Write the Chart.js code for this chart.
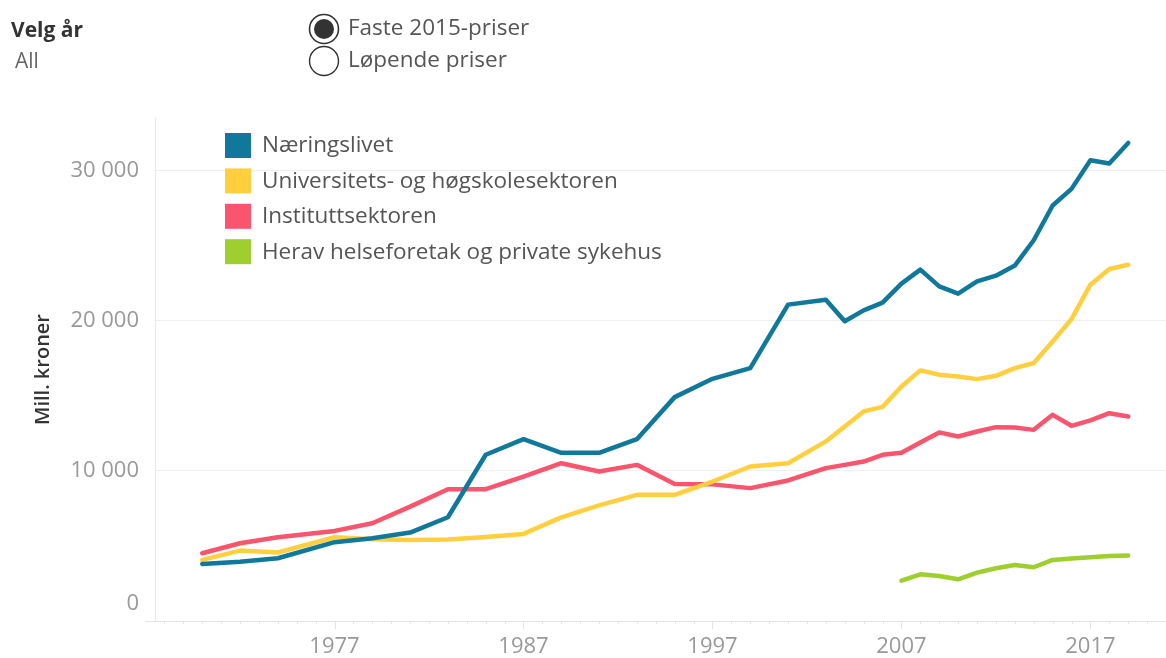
<!DOCTYPE html>
<html><head><meta charset="utf-8">
<script src="https://cdn.jsdelivr.net/npm/chart.js@4/dist/chart.umd.min.js"></script>
<style>
html,body{margin:0;padding:0;background:#fff;overflow:hidden;}
body{width:1166px;height:658px;position:relative;font-family:"Open Sans",sans-serif;}
#c{position:absolute;left:0;top:0;}
.t{position:absolute;white-space:nowrap;line-height:1;}
</style></head><body>
<canvas id="c" width="1166" height="658" style="width:1166px;height:658px"></canvas>
<div class="t" style="left:11px;top:19px;font-weight:700;font-size:21px;color:#333">Velg år</div>
<div class="t" style="left:15px;top:50px;font-size:21px;color:#666">All</div>
<svg class="t" style="left:300px;top:0px" width="50" height="90">
  <circle cx="24" cy="29" r="14.5" fill="#fff" stroke="#333" stroke-width="1.6"/>
  <circle cx="24" cy="29" r="10" fill="#333"/>
  <circle cx="24" cy="61" r="14.5" fill="#fff" stroke="#333" stroke-width="1.4"/>
</svg>
<div class="t" style="left:348px;top:16px;font-size:22.5px;color:#555">Faste 2015-priser</div>
<div class="t" style="left:348px;top:48px;font-size:22.5px;color:#555">Løpende priser</div>
<script>
const years = [1970,1972,1974,1977,1979,1981,1983,1985,1987,1989,1991,1993,1995,1997,1999,2001,2003,2004,2005,2006,2007,2008,2009,2010,2011,2012,2013,2014,2015,2016,2017,2018,2019];
const naeringslivet = [3800,3950,4180,5250,5510,5890,6910,11070,12110,11200,11200,12110,14910,16130,16840,21070,21400,19960,20690,21200,22470,23400,22290,21800,22620,23000,23670,25360,27670,28780,30690,30470,31840];
const universitet = [4070,4690,4560,5580,5440,5400,5420,5600,5800,6900,7700,8400,8400,9290,10290,10510,11960,12960,13960,14260,15620,16690,16400,16290,16110,16330,16840,17180,18620,20110,22400,23440,23730];
const institutt = [4510,5180,5580,6000,6510,7620,8780,8780,9620,10510,9960,10400,9130,9100,8850,9360,10180,10400,10620,11070,11200,11890,12560,12290,12620,12910,12890,12730,13730,13000,13360,13840,13620];
const helse = [null,null,null,null,null,null,null,null,null,null,null,null,null,null,null,null,null,null,null,null,2690,3110,3000,2780,3220,3510,3730,3580,4070,4160,4240,4330,4360];
const seriesNames = ["Næringslivet","Universitets- og høgskolesektoren","Instituttsektoren","Herav helseforetak og private sykehus"];
const seriesColors = ["#10789A","#FFCF3F","#F9556E","#9FCF2E"];
const yTicks = [0,10000,20000,30000];
const xLabelYears = [1977,1987,1997,2007,2017];

function pts(arr){ const o=[]; arr.forEach((v,i)=>{ if(v!==null) o.push({x:years[i],y:v}); }); return o; }
const allSeries=[naeringslivet,universitet,institutt,helse];
const fmt = v => String(v).replace(/\B(?=(\d{3})+(?!\d))/g,' ');
const FONT = '"Open Sans", sans-serif';

const decor = {
  id:'decor',
  beforeDatasetsDraw(chart){
    const ctx=chart.ctx, a=chart.chartArea, xs=chart.scales.x;
    ctx.save();
    ctx.strokeStyle='#e4e4e4'; ctx.lineWidth=1;
    ctx.beginPath(); ctx.moveTo(145,a.bottom+0.5); ctx.lineTo(1166,a.bottom+0.5); ctx.stroke();
    for(let yr=1968; yr<=2021; yr++){
      const x=Math.round(xs.getPixelForValue(yr))+0.5;
      const len = xLabelYears.includes(yr)?8:3;
      ctx.beginPath(); ctx.moveTo(x,a.bottom); ctx.lineTo(x,a.bottom+len); ctx.stroke();
    }
    ctx.restore();
  },
  afterDraw(chart){
    const ctx=chart.ctx, ys=chart.scales.y;
    ctx.save();
    ctx.font='22px '+FONT; ctx.fillStyle='#999'; ctx.textAlign='right'; ctx.textBaseline='middle';
    ctx.fillText(fmt(yTicks[0]), 139, ys.getPixelForValue(0)-17);
    ctx.textAlign='left';
    ctx.font='22.5px '+FONT;
    chart.data.datasets.forEach((d,i)=>{
      const top=133+i*35.4;
      ctx.fillStyle=d.borderColor; ctx.fillRect(225,top,26,25);
      ctx.fillStyle='#555'; ctx.fillText(d.label,262,top+13);
    });
    ctx.restore();
  }
};

new Chart(document.getElementById('c'),{
  type:'line',
  data:{datasets: allSeries.map((s,i)=>({label:seriesNames[i],data:pts(s),borderColor:seriesColors[i],backgroundColor:seriesColors[i],borderWidth:4.5,pointRadius:0,pointHoverRadius:0,tension:0,borderJoinStyle:'round',borderCapStyle:'round',fill:false}))},
  options:{
    responsive:false, maintainAspectRatio:false, animation:false, devicePixelRatio:1,
    layout:{autoPadding:false,padding:{left:0,right:0,top:118,bottom:0}},
    plugins:{legend:{display:false},tooltip:{enabled:false}},
    scales:{
      x:{type:'linear',min:1967.5,max:2021,
        afterFit:s=>{s.height=37; s.paddingLeft=0; s.paddingRight=0;},
        grid:{display:false,drawTicks:false},border:{display:false},
        ticks:{stepSize:1,autoSkip:false,maxRotation:0,padding:13,color:'#999',font:{family:FONT,size:22},
          callback:v=> xLabelYears.includes(v)?String(v):''}},
      y:{min:0,max:33500,
        afterFit:s=>{s.width=155; s.paddingTop=0; s.paddingBottom=0;},
        afterBuildTicks:s=>{s.ticks=yTicks.map(v=>({value:v}));},
        grid:{color:c=> c.tick && c.tick.value===0?'rgba(0,0,0,0)':'#efefef',drawTicks:false,lineWidth:1},
        border:{display:true,color:'#e8e8e8'},
        title:{display:true,text:'Mill. kroner',color:'#333',font:{family:FONT,size:20,weight:'600'},padding:{top:31,bottom:0}},
        ticks:{padding:16,color:'#999',font:{family:FONT,size:22},
          callback:v=> v!==0?fmt(v):''}}
    }
  },
  plugins:[decor]
});
</script>
</body></html>
